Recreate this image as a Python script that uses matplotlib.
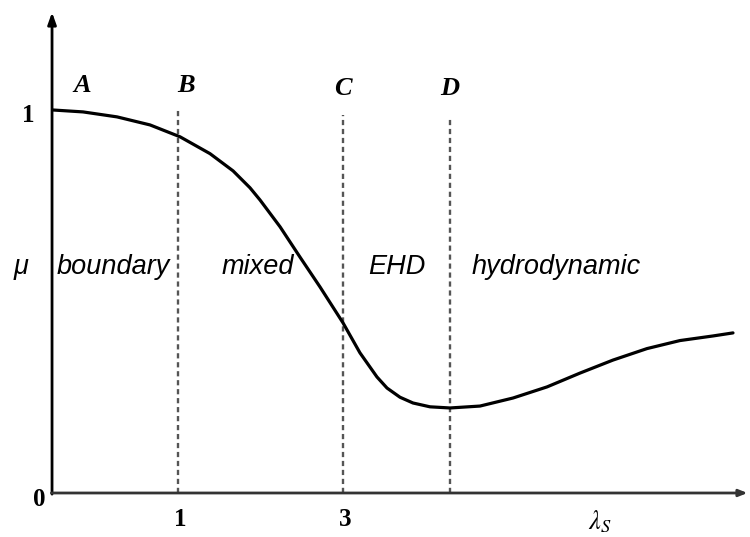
import matplotlib
matplotlib.use("Agg")
import matplotlib.pyplot as plt

# ── Data (schematic Stribeck curve, x in arbitrary lambda units) ──────
curve_x = [0.008, 0.246, 0.516, 0.778, 1.016, 1.254, 1.437, 1.571, 1.651, 1.810,
           1.968, 2.127, 2.310, 2.444, 2.579, 2.659, 2.762, 2.865, 3.000, 3.159,
           3.397, 3.659, 3.929, 4.190, 4.452, 4.722, 4.984, 5.246, 5.405]
curve_mu = [1.000, 0.995, 0.982, 0.961, 0.930, 0.886, 0.841, 0.797, 0.765, 0.695,
            0.616, 0.538, 0.444, 0.366, 0.303, 0.274, 0.250, 0.235, 0.225, 0.222,
            0.227, 0.248, 0.277, 0.313, 0.347, 0.377, 0.398, 0.410, 0.418]

point_letters = ["A", "B", "C", "D"]
point_x = [0.24, 1.06, 2.31, 3.16]
point_y = [1.035, 1.035, 1.025, 1.025]

divider_x = [1.0, 2.31, 3.16]
divider_top = [1.005, 0.987, 0.979]

regime_labels = ["boundary", "mixed", "EHD", "hydrodynamic"]
regime_x = [0.49, 1.63, 2.74, 4.0]
regime_y = 0.59

xtick_pos = [1.0, 2.31]
xtick_labels = ["1", "3"]

# ── Figure ────────────────────────────────────────────────────────────
fig = plt.figure(figsize=(7.5, 5.37), dpi=100, facecolor="white")
ax = fig.add_axes([0, 0, 1, 1])
ax.set_xlim(-0.413, 5.540)
ax.set_ylim(-0.1149, 1.2872)
ax.axis("off")

SERIF = ["Liberation Serif", "DejaVu Serif"]
SANS = ["Liberation Sans", "DejaVu Sans"]

# axes with arrows
ax.annotate("", xy=(0, 1.255), xytext=(0, -0.003),
            arrowprops=dict(arrowstyle="-|>,head_width=0.25,head_length=0.7",
                            lw=2.0, color="black", shrinkA=0, shrinkB=0))
ax.annotate("", xy=(5.52, 0), xytext=(-0.005, 0),
            arrowprops=dict(arrowstyle="-|>,head_width=0.2,head_length=0.5",
                            lw=2.0, color="#333333", shrinkA=0, shrinkB=0))

# dashed regime dividers
for xv, top in zip(divider_x, divider_top):
    ax.plot([xv, xv], [0, top], color="#555555", lw=1.7,
            linestyle=(0, (2.2, 1.6)), zorder=1)

# friction curve
ax.plot(curve_x, curve_mu, color="black", lw=2.3, solid_capstyle="round",
        solid_joinstyle="round", zorder=3)

# point letters
for lbl, xv, yv in zip(point_letters, point_x, point_y):
    ax.text(xv, yv, lbl, ha="center", va="bottom", fontsize=19,
            fontweight="bold", fontstyle="italic", family=SERIF)

# regime labels
for lbl, xv in zip(regime_labels, regime_x):
    ax.text(xv, regime_y, lbl, ha="center", va="center", fontsize=19.5,
            fontstyle="italic", family=SANS)
ax.text(-0.245, regime_y, "μ", ha="center", va="center", fontsize=19.5,
        fontstyle="italic", family=SANS)

# tick labels
ax.text(-0.19, 0.985, "1", ha="center", va="center", fontsize=18,
        fontweight="bold", family=SERIF)
ax.text(-0.1, -0.018, "0", ha="center", va="center", fontsize=18,
        fontweight="bold", family=SERIF)
for pos, lbl in zip(xtick_pos, xtick_labels):
    ax.text(pos + 0.02, -0.07, lbl, ha="center", va="center", fontsize=18,
            fontweight="bold", family=SERIF)

ax.text(4.35, -0.077, r"$\lambda_S$", ha="center", va="center", fontsize=19,
        math_fontfamily="stix")

fig.savefig("out.png", dpi=100, facecolor="white")
